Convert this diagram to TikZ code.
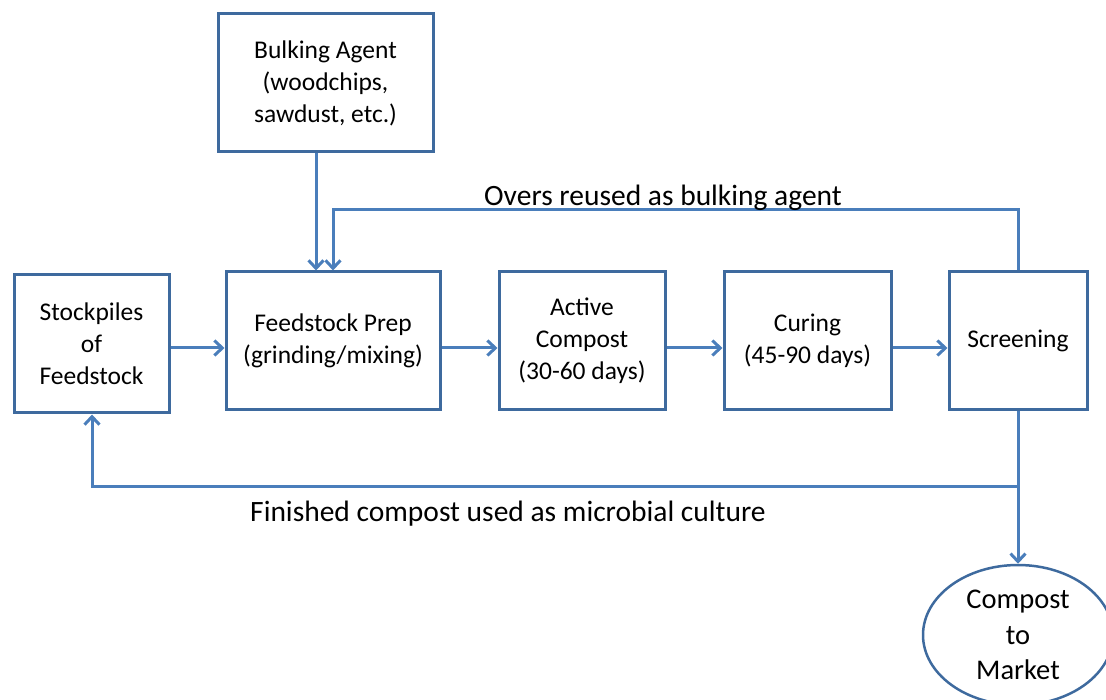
\documentclass[tikz,border=0pt]{standalone}
\usepackage{fontspec}
\setmainfont{Carlito}
\usepackage{tikz}
\usetikzlibrary{arrows.meta}
\usetikzlibrary{shapes.geometric}
\definecolor{boxblue}{HTML}{3E6A9E}
\definecolor{lineblue}{HTML}{4A7EBB}
\tikzset{stagebox/.style={draw=boxblue, line width=3pt, rectangle, align=center,
   inner sep=0pt, font=\fontsize{25.5}{32}\selectfont},
 flow/.style={draw=lineblue, line width=3pt,
   -{Straight Barb[length=8pt,width=15pt]}},
 note/.style={font=\fontsize{29.5}{34}\selectfont, inner sep=0pt},
 }

\begin{document}
\begin{tikzpicture}[x=1pt, y=-1pt]
        \useasboundingbox (0,0) rectangle (1106,700);
        \node[stagebox, minimum width=215pt, minimum height=138pt] (bulk) at (325.5, 83)
            {Bulking Agent\\(woodchips,\\sawdust, etc.)};
        \node[stagebox, minimum width=155pt, minimum height=138pt] (stock) at (91.5, 344)
            {Stockpiles\\of\\Feedstock};
        \node[stagebox, minimum width=214pt, minimum height=138pt] (prep) at (333, 341)
            {Feedstock Prep\\(grinding/mixing)};
        \node[stagebox, minimum width=166pt, minimum height=138pt] (active) at (582, 341)
            {Active\\Compost\\(30-60 days)};
        \node[stagebox, minimum width=167pt, minimum height=138pt] (curing) at (807.5, 341)
            {Curing\\(45-90 days)};
        \node[stagebox, minimum width=138pt, minimum height=138pt] (screen) at (1018, 341)
            {Screening};
        \node[stagebox, ellipse, line width=2.5pt, minimum width=190pt, minimum height=140pt,
            font=\fontsize{28.5}{35.5}\selectfont] (market) at (1018, 635)
            {Compost\\to\\Market};

        \coordinate (oversup) at (1018, 210);
        \coordinate (oversin) at (333, 210);
        \coordinate (split) at (1018, 486);
        \coordinate (back) at (92, 486);

        \draw[flow] (stock.east |- 0,348) -- (prep.west |- 0,348);
        \draw[flow] (prep.east |- 0,348) -- (active.west |- 0,348);
        \draw[flow] (active.east |- 0,348) -- (curing.west |- 0,348);
        \draw[flow] (curing.east |- 0,348) -- (screen.west |- 0,348);
        \draw[flow] (bulk.south -| 316,0) -- (prep.north -| 316,0);
        \draw[flow] (screen.north) -- (oversup) -- (oversin) -- (prep.north -| oversin);
        \draw[flow] (screen.south) -- (market.north);
        \draw[flow] (split) -- (back) -- (stock.south -| back);

        \node[note] (overs) at (663, 198) {Overs reused as bulking agent};
        \node[note] (finished) at (508, 514) {Finished compost used as microbial culture};
    \end{tikzpicture}
\end{document}
